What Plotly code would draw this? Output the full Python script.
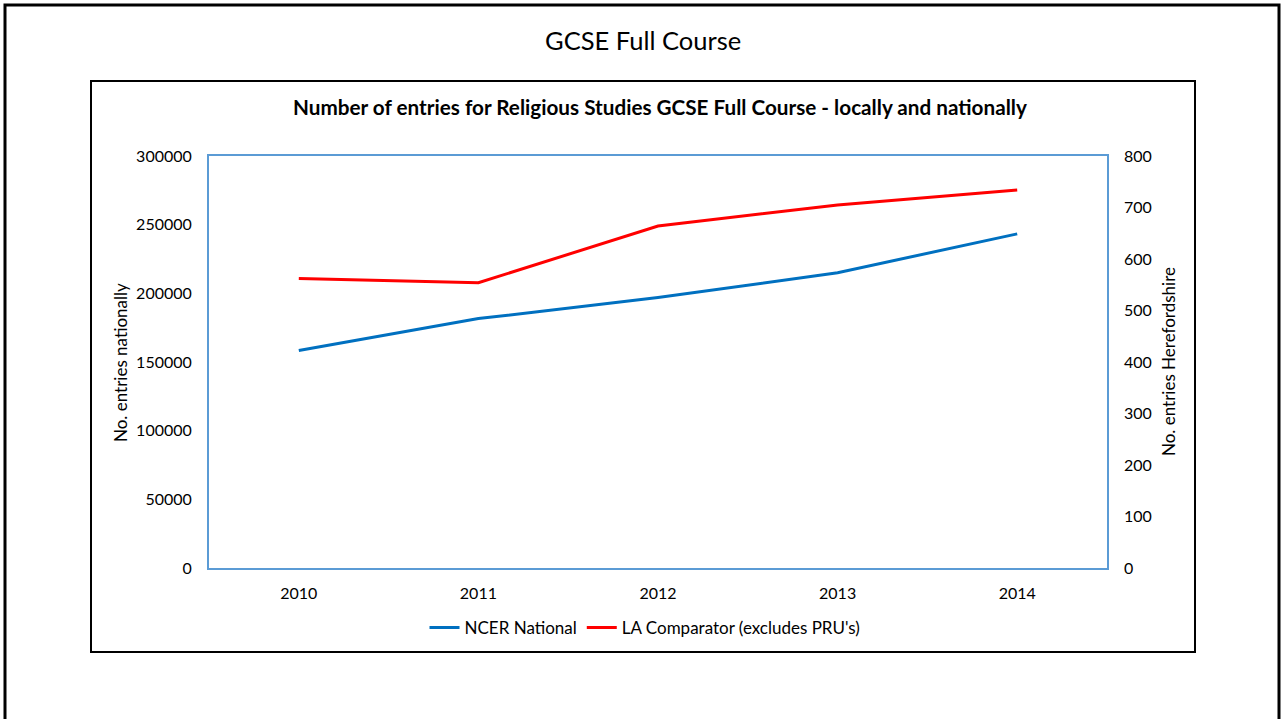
import plotly.graph_objects as go

# ── Data ──────────────────────────────────────────────────────────────────────
years = ["2010", "2011", "2012", "2013", "2014"]
ncer_national = [158300, 181600, 196900, 215000, 243300]
la_comparator = [562, 554, 664, 705, 734]

BLUE = "#0070C0"
RED = "#FF0000"
FRAME = "#5B9BD5"
FONT = "Lato, 'Open Sans', sans-serif"

# plot area in page pixels
PL, PR, PT, PB = 209, 1107, 156, 568
W, H = 1283, 719


def px(x):
    return (x - PL) / (PR - PL)


def py(y):
    return (PB - y) / (PB - PT)


def label(text, x, y, size, angle=0):
    return dict(text=text, x=px(x), y=py(y), xref="paper", yref="paper",
                xanchor="center", yanchor="middle", showarrow=False,
                textangle=angle, font=dict(size=size))


fig = go.Figure()

fig.add_trace(go.Scatter(
    x=years, y=ncer_national, mode="lines", name="NCER National",
    line=dict(color=BLUE, width=3)))

fig.add_trace(go.Scatter(
    x=years, y=la_comparator, mode="lines", name="LA Comparator (excludes PRU's)",
    yaxis="y2", line=dict(color=RED, width=3)))

fig.update_layout(
    width=W, height=H, autosize=False,
    paper_bgcolor="white", plot_bgcolor="white",
    font=dict(family=FONT, color="#000000", size=16),
    margin=dict(l=PL, r=W - PR, t=PT, b=H - PB, pad=0),
    showlegend=True,
    legend=dict(orientation="h", x=px(645), y=py(628), xanchor="center",
                yanchor="middle", font=dict(size=17), bgcolor="rgba(0,0,0,0)",
                itemwidth=30, tracegroupgap=0),
    xaxis=dict(type="category", range=[-0.5, 4.5], showgrid=False,
               showline=True, linecolor=FRAME, linewidth=2, mirror=True,
               ticks="", ticklabelstandoff=10, zeroline=False),
    yaxis=dict(range=[0, 300000], dtick=50000, tickformat="d", showgrid=False,
               showline=True, linecolor=FRAME, linewidth=2, mirror=True,
               ticks="", ticklabelstandoff=12, zeroline=False),
    yaxis2=dict(range=[0, 800], dtick=100, overlaying="y", side="right",
                showgrid=False, showline=False, ticks="",
                ticklabelstandoff=16, zeroline=False),
    annotations=[
        label("GCSE Full Course", 643, 40, 25.5),
        label("<b>Number of entries for Religious Studies GCSE Full Course - locally and nationally</b>",
              660, 107, 20.7),
        label("No. entries nationally", 120, 363, 17, -90),
        label("No. entries Herefordshire", 1168, 362, 17, -90),
    ],
    shapes=[
        # outer frame (bottom edge runs off the page)
        dict(type="rect", xref="paper", yref="paper",
             x0=px(5), x1=px(1279), y0=py(730), y1=py(5),
             line=dict(color="#000000", width=3)),
        # chart box
        dict(type="rect", xref="paper", yref="paper",
             x0=px(91), x1=px(1195), y0=py(652), y1=py(81),
             line=dict(color="#000000", width=2)),
    ],
)

fig.write_html("out.html", config={"displayModeBar": False},
               post_script="document.body.style.margin='0';")
